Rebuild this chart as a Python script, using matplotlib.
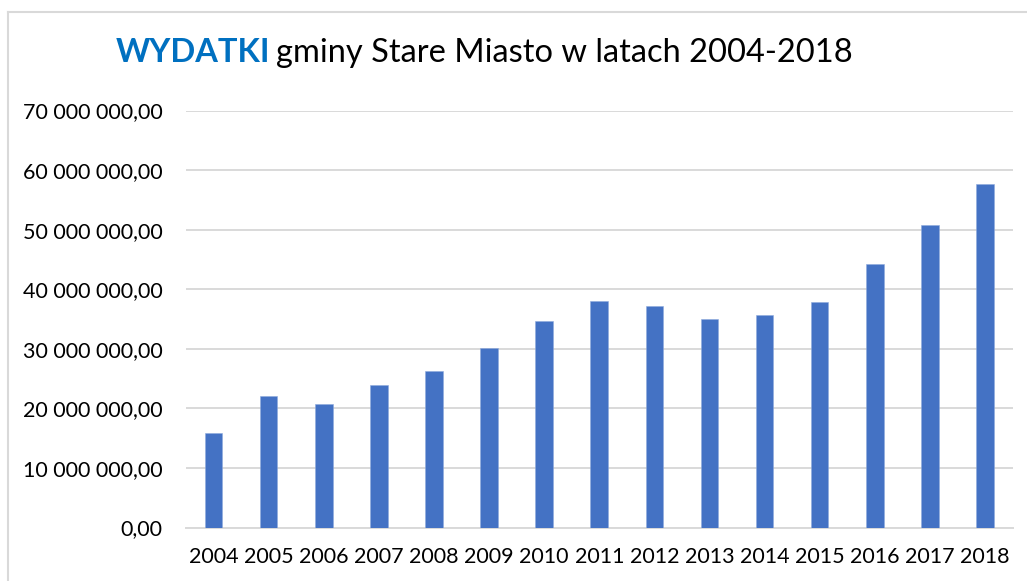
import matplotlib.pyplot as plt
from matplotlib.lines import Line2D
from matplotlib.ticker import FuncFormatter

plt.rcParams['font.family'] = ['Lato', 'DejaVu Sans']

# Wydatki gminy (zł)
years = ['2004', '2005', '2006', '2007', '2008', '2009', '2010', '2011',
         '2012', '2013', '2014', '2015', '2016', '2017', '2018']
expenses = [15.9e6, 22.0e6, 20.7e6, 24.0e6, 26.2e6, 30.1e6, 34.6e6, 38.1e6,
            37.1e6, 35.0e6, 35.7e6, 37.9e6, 44.2e6, 50.7e6, 57.7e6]

W, H = 1027, 581
fig = plt.figure(figsize=(W / 100, H / 100), dpi=100)
ax = fig.add_axes([186 / W, 1 - 527.5 / H, 826.5 / W, 417 / H])

x = range(len(years))
ax.bar(x, expenses, width=0.32, color='#4472C4', edgecolor='#8FAADC',
       linewidth=0.4, zorder=3)

ax.set_xlim(-0.5, len(years) - 0.5)
ax.set_ylim(0, 70e6)
ax.set_yticks([i * 10e6 for i in range(8)])
ax.set_xticks(list(x))
ax.set_xticklabels(years)


def pl_fmt(v, pos):
    s = f'{v:,.2f}'
    return s.replace(',', ' ').replace('.', ',')


ax.yaxis.set_major_formatter(FuncFormatter(pl_fmt))
ax.grid(axis='y', color='#d9d9d9', linewidth=1.4, zorder=0)
ax.tick_params(axis='both', length=0, labelsize=15.5, colors='#000000')
ax.tick_params(axis='y', pad=17)
ax.tick_params(axis='x', pad=14)
for s in ['top', 'right', 'left']:
    ax.spines[s].set_visible(False)
ax.spines['bottom'].set_color('#d9d9d9')
ax.spines['bottom'].set_linewidth(1.4)

# ramka wykresu (widoczna tylko z lewej i u góry)
fig.add_artist(Line2D([8 / W, 8 / W], [1 - 12 / H, 0], color='#d9d9d9', lw=1.5))
fig.add_artist(Line2D([8 / W, 1], [1 - 12 / H, 1 - 12 / H], color='#d9d9d9', lw=1.5))

# tytuł w dwóch kolorach
t1 = fig.text(116 / W, 1 - 62 / H, 'WYDATKI', fontsize=23.5, fontweight='bold',
              color='#0070C0', va='baseline')
fig.canvas.draw()
bb = t1.get_window_extent()
fig.text((bb.x1 + 6) / W, 1 - 62 / H, 'gminy Stare Miasto w latach 2004-2018',
         fontsize=23.5, color='#000000', va='baseline')

fig.savefig('out.png', dpi=100)
